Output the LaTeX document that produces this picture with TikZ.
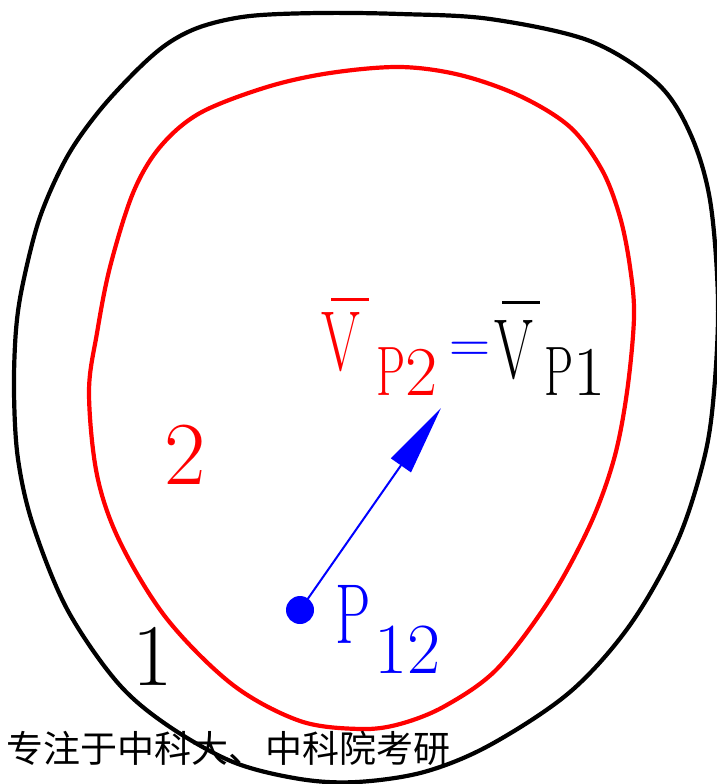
\documentclass[tikz,border=0pt]{standalone}
\usepackage{fontspec}
\usepackage{graphicx}
\newfontfamily\cjk{Noto Sans CJK SC}
\usetikzlibrary{arrows.meta}
% narrow upright letter, as in the reference
\newcommand\nl[1]{\scalebox{0.66}[1]{#1}}
% V with a bar: #1 = bar shift right, #2 = bar raise
\newcommand\barV[2]{\leavevmode\rlap{\hspace{#1}\raisebox{#2}{\rule{38pt}{3.5pt}}}\nl{V}}
\newcommand\fsz[1]{\fontsize{#1}{#1}\selectfont}
\tikzset{
  lbl/.style={inner sep=0pt, outer sep=0pt},
  curve/.style={line width=4.2pt, line join=round},
}
\begin{document}
\begin{tikzpicture}[x=1pt,y=-1pt]
\useasboundingbox (0,0) rectangle (717,784);
\clip (0,0) rectangle (717,784);
% outer body 1
\draw[curve, black] plot[smooth cycle, tension=0.55] coordinates {
 (250,16) (320,13) (400,14) (490,19) (590,41) (657,83) (690,133) (710,200) (718,300)
 (714,392) (704,459) (677,542) (630,625) (570,692) (490,745) (424,772) (357,782)
 (300,779) (233,762) (167,725) (117,682) (67,609) (33,525) (18,459) (14,392)
 (16,330) (23,283) (40,217) (67,157) (100,110) (140,67) (170,42) (203,26)};
% inner body 2
\draw[curve, red] plot[smooth cycle, tension=0.55] coordinates {
 (330,73) (400,67) (460,75) (520,96) (570,127) (602,170) (620,217) (630,267) (634,317)
 (627,392) (614,459) (590,525) (550,599) (497,669) (445,706) (400,724) (360,729)
 (300,721) (233,685) (167,619) (120,542) (97,475) (89,392) (97,333) (110,267)
 (133,193) (160,147) (200,113) (267,87)};
% labels of the bodies
\node[lbl, red, anchor=base, font=\fsz{90}] (n2) at (185,484) {2};
\node[lbl, black, anchor=base, font=\fsz{88}] (n1) at (153,685) {1};
% velocity label
\node[lbl, red, anchor=base west, font=\fsz{85}] (vr) at (321,370) {\barV{10pt}{69pt}};
\node[lbl, red, anchor=base west, font=\fsz{70}] (p2) at (376,395) {\nl{P}2};
\node[lbl, blue, anchor=base west, font=\fsz{57}] (eq) at (449,362) {=};
\node[lbl, black, anchor=base west, font=\fsz{85}] (vb) at (494,378) {\barV{8pt}{74pt}};
\node[lbl, black, anchor=base west, font=\fsz{70}] (p1) at (544,395) {\nl{P}1};
% point P12 and velocity arrow
\node[circle, fill=blue, minimum size=28pt, inner sep=0pt] (dot) at (300,610) {};
\coordinate (tip) at (441,408);
\draw[blue, line width=2pt, -{Triangle[length=70pt,width=24pt]}] (dot.center) -- (tip);
\node[lbl, blue, anchor=base west, font=\fsz{85}] (P) at (335,643) {\nl{P}};
\node[lbl, blue, anchor=base west, font=\fsz{72}] (sub) at (374,673) {12};
% footer text
\node[lbl, black, anchor=base west, font=\cjk\fsz{37}] (foot) at (6,762) {专注于中科大、中科院考研};
\end{tikzpicture}
\end{document}
